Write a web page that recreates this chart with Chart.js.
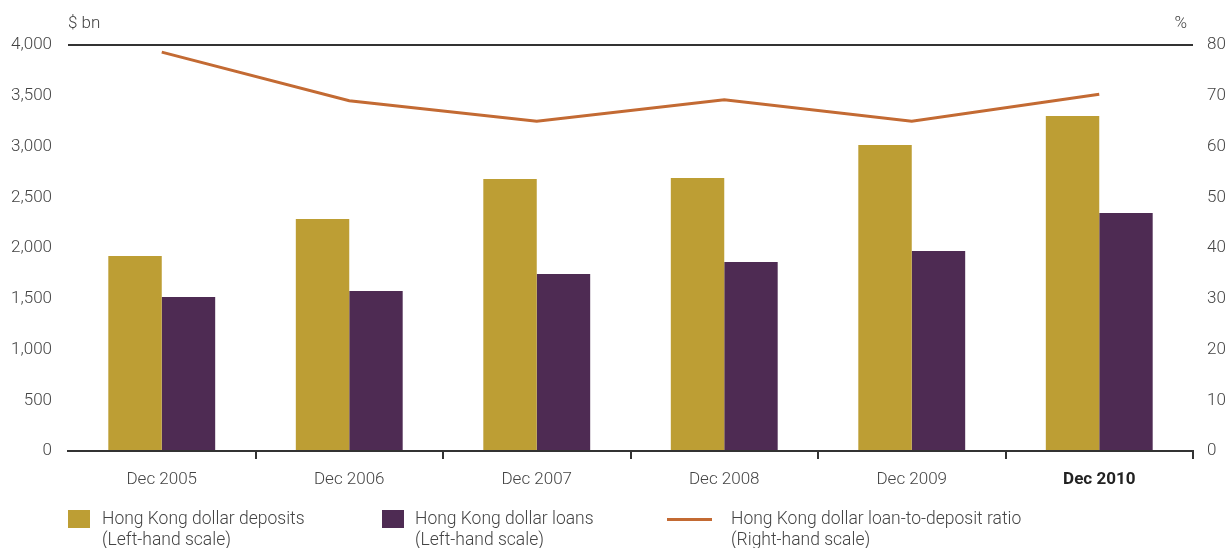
<!DOCTYPE html>
<html>
<head>
<meta charset="utf-8">
<script src="https://cdn.jsdelivr.net/npm/chart.js@4.4.1/dist/chart.umd.min.js"></script>
<style>
  html, body { margin: 0; padding: 0; background: #fff; }
  #wrap { position: relative; width: 1226px; height: 548px; overflow: hidden; font-family: Roboto, sans-serif; }
  #legend .sw { position: absolute; }
  #legend .txt { position: absolute; font-size: 17.5px; line-height: 21px; color: #444; font-weight: 300; white-space: nowrap; }
</style>
</head>
<body>
<div id="wrap">
  <canvas id="chart" width="1226" height="548"></canvas>
  <div id="legend"></div>
</div>
<script>
// --- data ---
const categories = ["Dec 2005", "Dec 2006", "Dec 2007", "Dec 2008", "Dec 2009", "Dec 2010"];
const deposits = [1921, 2286, 2680, 2690, 3015, 3300];
const loans = [1517, 1576, 1744, 1862, 1970, 2345];
const ratio = [78.6, 69.0, 65.0, 69.2, 65.0, 70.3];
const leftTicks = [0, 500, 1000, 1500, 2000, 2500, 3000, 3500, 4000];
const rightTicks = [0, 10, 20, 30, 40, 50, 60, 70, 80];

const GOLD = "#bd9e34";
const PURPLE = "#4e2b53";
const ORANGE = "#c36a33";
const TEXT = "#444";

// titles above the axes ($ bn / %)
const axisTitles = {
  id: "axisTitles",
  afterDraw(chart) {
    const c = chart.ctx;
    const a = chart.chartArea;
    c.save();
    c.font = "300 17px Roboto";
    c.fillStyle = TEXT;
    c.textBaseline = "middle";
    c.textAlign = "left";
    c.fillText("$ bn", a.left, 24);
    c.textAlign = "right";
    c.fillText("%", a.right - 6, 24);
    c.restore();
  }
};

const ctx = document.getElementById("chart").getContext("2d");
const chart = new Chart(ctx, {
  type: "bar",
  data: {
    labels: categories,
    datasets: [
      {
        type: "line",
        label: "Hong Kong dollar loan-to-deposit ratio",
        note: "(Right-hand scale)",
        data: ratio,
        yAxisID: "y2",
        borderColor: ORANGE,
        borderWidth: 3,
        pointRadius: 0,
        tension: 0,
        order: 0
      },
      {
        label: "Hong Kong dollar deposits",
        note: "(Left-hand scale)",
        data: deposits,
        backgroundColor: GOLD,
        yAxisID: "y",
        categoryPercentage: 0.57,
        barPercentage: 1,
        order: 1
      },
      {
        label: "Hong Kong dollar loans",
        note: "(Left-hand scale)",
        data: loans,
        backgroundColor: PURPLE,
        yAxisID: "y",
        categoryPercentage: 0.57,
        barPercentage: 1,
        order: 1
      }
    ]
  },
  options: {
    responsive: false,
    animation: false,
    layout: { padding: { top: 45 } },
    plugins: {
      legend: { display: false },
      tooltip: { enabled: false }
    },
    scales: {
      x: {
        offset: true,
        afterFit: s => { s.height = 97; },
        grid: {
          offset: true,
          drawOnChartArea: false,
          tickLength: 8,
          lineWidth: 2,
          color: c => (c.index === 0 || c.index === categories.length) ? "rgba(0,0,0,0)" : "#333"
        },
        border: { display: true, color: "#333", width: 2 },
        ticks: {
          padding: 11,
          color: c => c.index === categories.length - 1 ? "#222" : TEXT,
          font: c => c.index === categories.length - 1
            ? { family: "Roboto", size: 17, weight: "bold" }
            : { family: "Roboto", size: 17, weight: "300" }
        }
      },
      y: {
        position: "left",
        min: 0,
        max: 4000,
        afterFit: s => { s.width = 68; },
        afterBuildTicks: s => { s.ticks = leftTicks.map(v => ({ value: v })); },
        border: { display: false },
        grid: {
          drawTicks: false,
          lineWidth: 2,
          color: c => c.tick && c.tick.value === 4000 ? "#333" : "rgba(0,0,0,0)"
        },
        ticks: {
          padding: 16,
          color: TEXT,
          font: { family: "Roboto", size: 17, weight: "300" },
          callback: v => v.toLocaleString("en-US")
        }
      },
      y2: {
        position: "right",
        min: 0,
        max: 80,
        afterFit: s => { s.width = 33; },
        afterBuildTicks: s => { s.ticks = rightTicks.map(v => ({ value: v })); },
        border: { display: false },
        grid: { display: false, drawTicks: false },
        ticks: {
          padding: 14,
          color: TEXT,
          font: { family: "Roboto", size: 17, weight: "300" }
        }
      }
    }
  },
  plugins: [axisTitles]
});

// --- HTML legend (two-line labels) ---
const legendPos = [
  { ds: 1, sw: 68, tx: 102 },
  { ds: 2, sw: 382, tx: 415 },
  { ds: 0, sw: 667, tx: 731 }
];
const legendBox = document.getElementById("legend");
legendPos.forEach(p => {
  const d = chart.data.datasets[p.ds];
  const sw = document.createElement("div");
  sw.className = "sw";
  if (d.type === "line") {
    Object.assign(sw.style, { left: p.sw + "px", top: "518px", width: "45px", height: "3px", background: d.borderColor });
  } else {
    Object.assign(sw.style, { left: p.sw + "px", top: "510px", width: "22px", height: "18px", background: d.backgroundColor });
  }
  legendBox.appendChild(sw);
  const t = document.createElement("div");
  t.className = "txt";
  t.style.left = p.tx + "px";
  t.style.top = "508px";
  t.innerHTML = d.label + "<br>" + d.note;
  legendBox.appendChild(t);
});
</script>
</body>
</html>
